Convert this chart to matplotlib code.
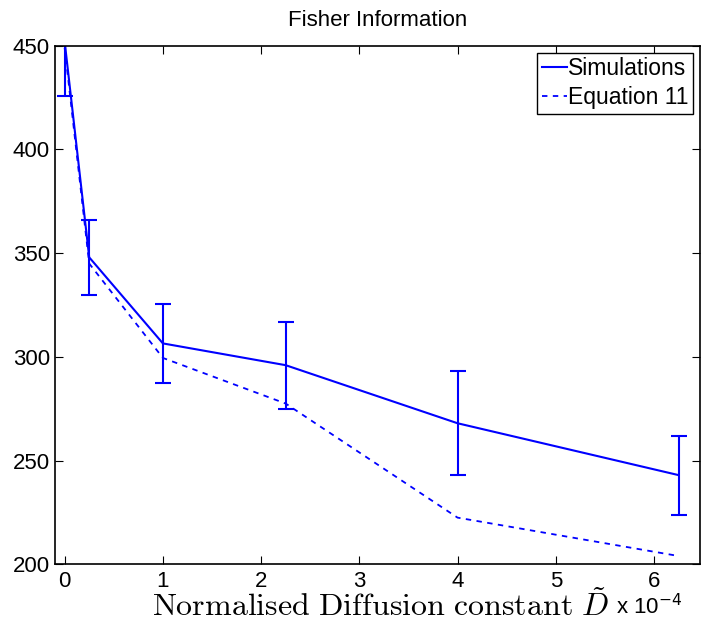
import matplotlib
matplotlib.use("Agg")
from matplotlib import pyplot as plt
from matplotlib.lines import Line2D

plt.rcParams['font.family'] = ['Liberation Sans', 'DejaVu Sans']
plt.rcParams['mathtext.fontset'] = 'cm'

# diffusion constant (x 10^-4)
d_values = [0, 0.25, 1, 2.25, 4, 6.25]
# simulated fisher information and error bar half-widths
sim_fisher = [452, 348, 306.5, 296, 268, 243]
sim_err = [26, 18, 19, 21, 25, 19]
# equation 11 prediction
eq11_fisher = [449, 345, 299.5, 277.5, 222.5, 204]

fig = plt.figure(figsize=(7.03, 6.27), dpi=100)
ax = fig.add_axes([0.078, 0.100, 0.918, 0.827])

ax.errorbar(d_values, sim_fisher, yerr=sim_err, color='#0000ff', lw=1.5,
            elinewidth=1.5, capsize=6, capthick=1.5)
ax.plot(d_values, eq11_fisher, color='#0000ff', lw=1.3, ls=(0, (3, 3)))

ax.set_xlim(-0.1, 6.47)
ax.set_ylim(200, 450)
ax.set_xticks(range(0, 7))
ax.set_yticks(range(200, 451, 50))
ax.tick_params(direction='in', top=True, right=True, labelsize=16, length=6)
ax.tick_params(axis='x', pad=5)
for s in ax.spines.values():
    s.set_linewidth(1.2)

ax.set_title('Fisher Information', fontsize=16, pad=14)
handles = [Line2D([], [], color='#0000ff', lw=1.5),
           Line2D([], [], color='#0000ff', lw=1.3, ls=(0, (3, 3)))]
ax.legend(handles, ['Simulations', 'Equation 11'], loc='upper right',
          fontsize=16.5, handlelength=1.1, handletextpad=0.05, borderpad=0.2,
          labelspacing=0.25, fancybox=False, edgecolor='black', framealpha=1,
          borderaxespad=0.3)

fig.text(0.216, 0.017, r'$\mathrm{Normalised\ Diffusion\ constant}\ \tilde{D}$',
         fontsize=23, ha='left', va='baseline')
fig.text(0.876, 0.02, r'x 10$^{-4}$', fontsize=16, ha='left', va='baseline',
         math_fontfamily='dejavusans')

fig.savefig('out.png', dpi=100)
